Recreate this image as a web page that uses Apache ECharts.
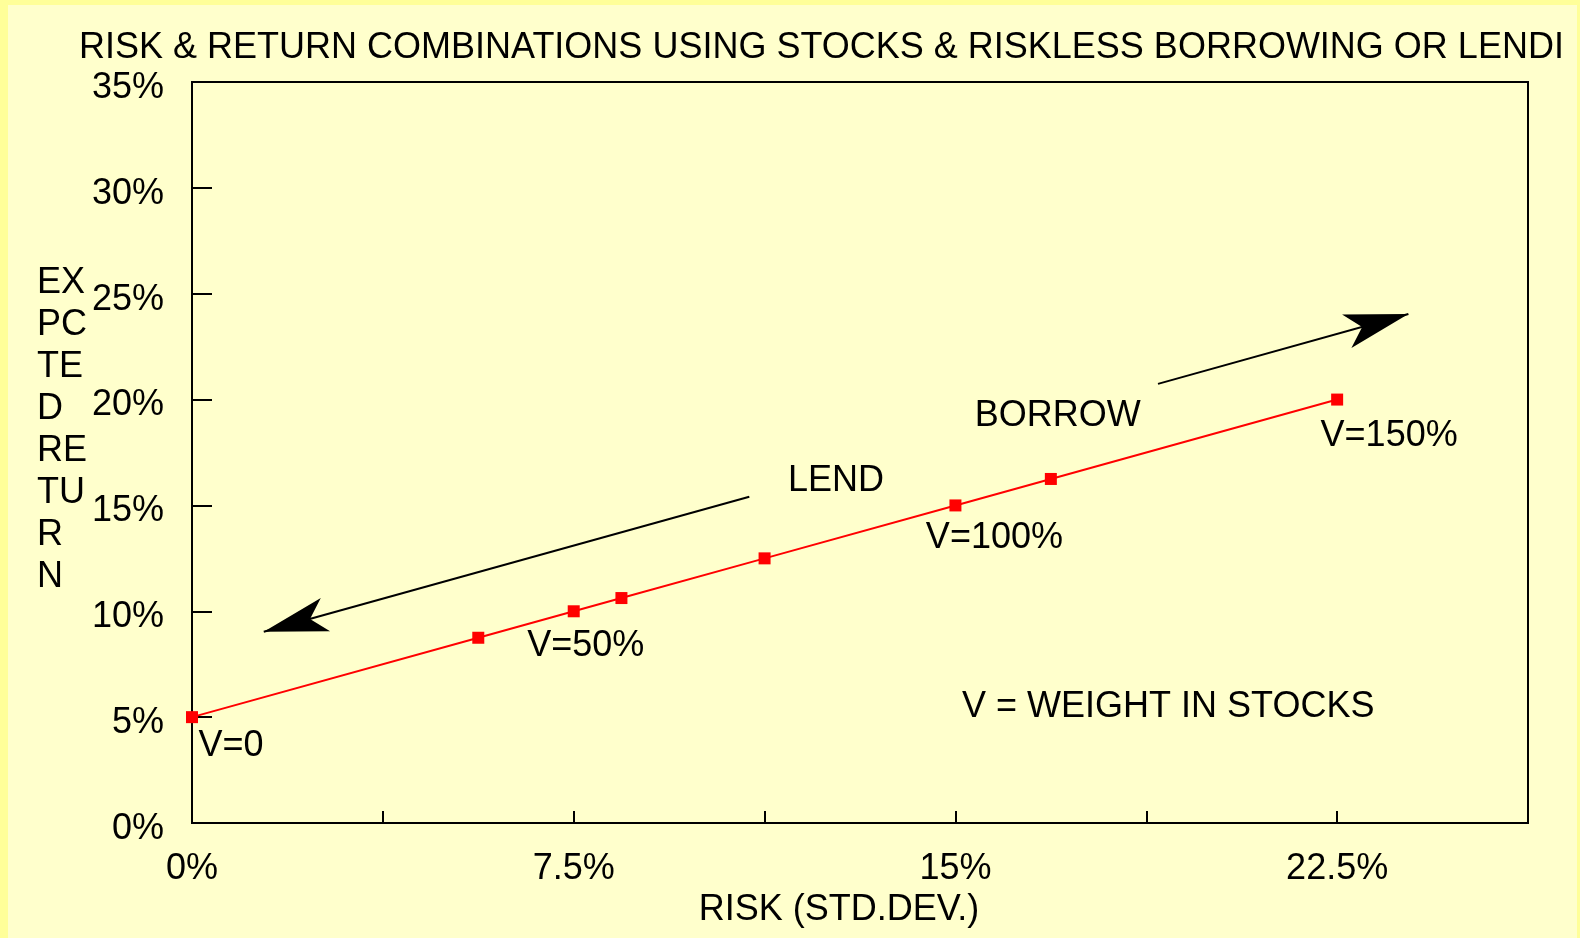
<!DOCTYPE html>
<html>
<head>
<meta charset="utf-8">
<title>Risk & Return</title>
<script src="https://cdn.jsdelivr.net/npm/echarts@6/dist/echarts.min.js"></script>
<style>
    html, body { margin: 0; padding: 0; background: #FFFF99; }
    #main { width: 1580px; height: 938px; }
</style>
</head>
<body>
<div id="main"></div>
<script>
// portfolio points: risk (std.dev, %) and expected return (%)
var risk = [0, 5.625, 7.5, 8.4375, 11.25, 15, 16.875, 22.5];
var expReturn = [5, 8.75, 10, 10.625, 12.5, 15, 16.25, 20];
var weightLabels = ['V=0', '', 'V=50%', '', '', 'V=100%', '', 'V=150%'];

// free text notes, anchored in data units (left edge of text)
var noteTexts = ['LEND', 'BORROW', 'V = WEIGHT IN STOCKS'];
var notePoints = [[11.7, 16.34], [15.37, 19.41], [15.12, 5.67]];

// arrows: [from, to] in data units
var lendArrow = [[10.95, 15.41], [1.41, 9.03]];
var borrowArrow = [[18.98, 20.74], [23.9, 24.04]];

var titleText = 'RISK & RETURN COMBINATIONS USING STOCKS & RISKLESS BORROWING OR LENDI';
var xName = 'RISK (STD.DEV.)';
var yName = ['EX', 'PC', 'TE', 'D', 'RE', 'TU', 'R', 'N'];

var FONT = '"Liberation Sans", Arial, Helvetica, sans-serif';
var FS = 36;

// label placement for the weight tags (pixel offset from the marker)
var labelOffsets = { 0: [39, 29], 2: [12, 35], 5: [39, 33], 7: [52, 37] };

var points = [];
for (var i = 0; i < risk.length; i++) {
    var p = { value: [risk[i], expReturn[i]] };
    if (weightLabels[i]) {
        p.label = {
            show: true,
            formatter: weightLabels[i],
            position: 'inside',
            offset: labelOffsets[i],
            color: '#000',
            fontSize: FS,
            fontFamily: FONT
        };
    }
    points.push(p);
}

var notes = [];
for (var j = 0; j < noteTexts.length; j++) {
    notes.push({ name: noteTexts[j], coord: notePoints[j] });
}

var myChart = echarts.init(document.getElementById('main'));
var option = {
    animation: false,
    backgroundColor: '#FFFF99',
    textStyle: { fontFamily: FONT },
    graphic: [{
        type: 'rect',
        z: -10,
        silent: true,
        shape: { x: 8, y: 5, width: 1569, height: 933 },
        style: { fill: '#FFFFCC' }
    }, {
        type: 'text',
        left: 37,
        top: 262,
        silent: true,
        style: {
            text: yName.join('\n'),
            fontSize: FS,
            lineHeight: 42,
            fontFamily: FONT,
            fill: '#000'
        }
    }],
    title: {
        text: titleText,
        left: 79,
        top: 30,
        padding: 0,
        textStyle: { fontSize: FS, fontWeight: 'normal', color: '#000', fontFamily: FONT }
    },
    grid: {
        left: 192,
        right: 52,
        top: 82,
        bottom: 115,
        show: true,
        borderColor: '#000',
        borderWidth: 2,
        backgroundColor: 'transparent'
    },
    xAxis: {
        type: 'value',
        min: 0,
        max: 26.25,
        interval: 3.75,
        name: xName,
        nameLocation: 'middle',
        nameGap: 60,
        nameTextStyle: { fontSize: FS, color: '#000', padding: [0, 42, 0, 0] },
        axisLine: { lineStyle: { color: '#000', width: 2 } },
        axisTick: { inside: true, length: 12, lineStyle: { color: '#000', width: 2 } },
        axisLabel: {
            margin: 28,
            fontSize: FS,
            color: '#000',
            formatter: function (v) {
                return Math.round(v / 3.75) % 2 === 0 ? v + '%' : '';
            }
        },
        splitLine: { show: false }
    },
    yAxis: {
        type: 'value',
        min: 0,
        max: 35,
        interval: 5,
        axisLine: { show: true, lineStyle: { color: '#000', width: 2 } },
        axisTick: { show: true, inside: true, length: 20, lineStyle: { color: '#000', width: 2 } },
        axisLabel: {
            margin: 28,
            color: '#000',
            formatter: function (v) {
                return '{v|' + v + '%}';
            },
            rich: {
                v: { fontSize: FS, color: '#000', fontFamily: FONT, padding: [12, 0, 0, 0] }
            }
        },
        splitLine: { show: false }
    },
    series: [{
        type: 'line',
        data: points,
        symbol: 'rect',
        symbolSize: 12,
        showAllSymbol: true,
        itemStyle: { color: '#FF0000' },
        lineStyle: { color: '#FF0000', width: 2 },
        emphasis: { disabled: true },
        silent: true,
        markPoint: {
            silent: true,
            symbol: 'circle',
            symbolSize: 1,
            itemStyle: { color: 'transparent' },
            label: {
                show: true,
                position: 'right',
                distance: 0,
                offset: [0, 4],
                formatter: '{b}',
                color: '#000',
                fontSize: FS,
                fontFamily: FONT
            },
            data: notes
        },
        markLine: {
            silent: true,
            symbol: ['none', 'arrow'],
            symbolSize: [26, 64],
            lineStyle: { color: '#000', width: 2, type: 'solid' },
            label: { show: false },
            emphasis: { disabled: true },
            data: [
                [{ coord: lendArrow[0] }, { coord: lendArrow[1] }],
                [{ coord: borrowArrow[0] }, { coord: borrowArrow[1] }]
            ]
        }
    }]
};
myChart.setOption(option);
</script>
</body>
</html>
